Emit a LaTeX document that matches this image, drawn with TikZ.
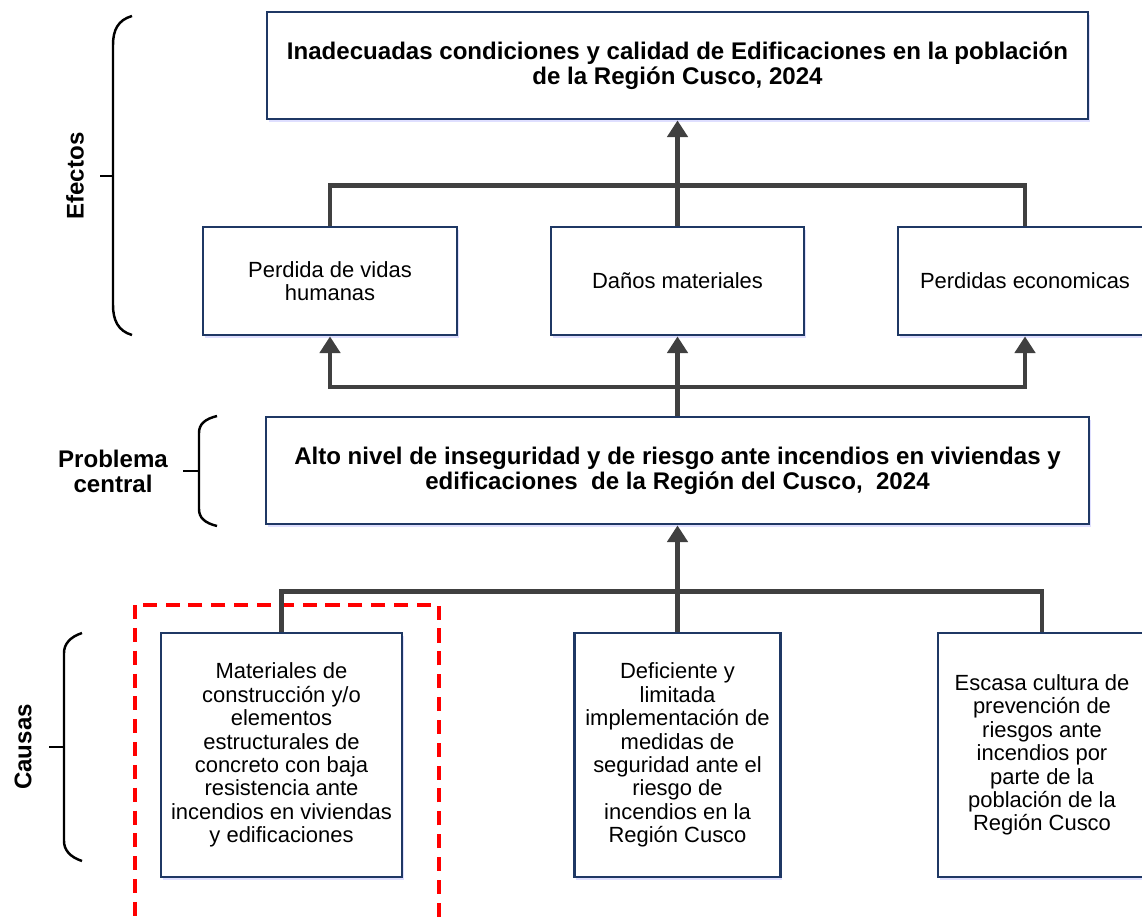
\documentclass[tikz,border=0pt]{standalone}
\usepackage{fontspec}
\setmainfont{Liberation Sans}
\usetikzlibrary{arrows.meta}
\usetikzlibrary{shadows}
\definecolor{boxblue}{RGB}{31,56,100}
\definecolor{linegray}{RGB}{64,64,64}
\newcommand{\pxl}{0.02cm}
\tikzset{
    box/.style={draw=boxblue, line width=1.6pt, fill=white, align=center, inner sep=0pt,
        font=\fontsize{12.5}{13.3}\selectfont,
        drop shadow={shadow xshift=1pt, shadow yshift=-1.5pt, fill=blue!25!white, opacity=.5}},
    bigbox/.style={box, font=\bfseries\fontsize{13.7}{14.3}\selectfont},
    link/.style={draw=linegray, line width=2.4pt},
    arrowlink/.style={link, -{Triangle[width=11.5pt,length=9.5pt]}},
    brace/.style={draw=black, line width=1.4pt},
    sidelabel/.style={font=\bfseries\fontsize{13.7}{14.3}\selectfont, align=center},
    reddash/.style={draw=red, line width=2pt, dash pattern=on 8pt off 5pt},
}

\begin{document}
\begin{tikzpicture}[x=0.02cm, y=-0.02cm]
	\clip (0,0) rectangle (1142,919);
	% efectos
	\node[bigbox, minimum width={821*\pxl}, minimum height={107*\pxl}] (efecto) at (677.5,65.5)
		{Inadecuadas condiciones y calidad de Edificaciones en la población\\de la Región Cusco, 2024};
	\node[box, minimum width={254*\pxl}, minimum height={108*\pxl}] (ef1) at (330,281) {Perdida de vidas\\humanas};
	\node[box, minimum width={253*\pxl}, minimum height={108*\pxl}] (ef2) at (677.5,281) {Daños materiales};
	\node[box, minimum width={254*\pxl}, minimum height={108*\pxl}] (ef3) at (1025,281) {Perdidas economicas};
	% problema central
	\node[bigbox, minimum width={823*\pxl}, minimum height={107*\pxl}] (central) at (677.5,470.5)
		{Alto nivel de inseguridad y de riesgo ante incendios en viviendas y\\edificaciones\ \ de la Región del Cusco,\ \ 2024};
	% causas
	\draw[reddash] (135,605) rectangle (439,940);
	\node[box, minimum width={241*\pxl}, minimum height={244*\pxl}] (ca1) at (281.5,755)
		{Materiales de\\construcción y/o\\elementos\\estructurales de\\concreto con baja\\resistencia ante\\incendios en viviendas\\y edificaciones};
	\node[box, minimum width={206*\pxl}, minimum height={244*\pxl}] (ca2) at (677.5,755)
		{Deficiente y\\limitada\\implementación de\\medidas de\\seguridad ante el\\riesgo de\\incendios en la\\Región Cusco};
	\node[box, minimum width={208*\pxl}, minimum height={244*\pxl}] (ca3) at (1042,755)
		{Escasa cultura de\\prevención de\\riesgos ante\\incendios por\\parte de la\\población de la\\Región Cusco};
	% conectores
	\draw[link] (ef1.north) -- ++(0,-40) -| (ef3.north);
	\draw[arrowlink] (ef2.north) -- (efecto.south);
	\coordinate (jlow) at (677.5,387);
	\draw[arrowlink] (central.north) -- (ef2.south);
	\draw[arrowlink] (jlow) -| (ef1.south);
	\draw[arrowlink] (jlow) -| (ef3.south);
	\draw[link] (ca1.north) -- ++(0,-40) -| (ca3.north);
	\draw[arrowlink] (ca2.north) -- (central.south);
	% llaves
	\draw[brace] (132,16) .. controls (118,20) and (113,30) .. (113,45) -- (113,305) .. controls (113,320) and (118,331) .. (132,335);
	\draw[brace] (100,176) -- (113,176);
	\node[sidelabel, rotate=90] (lefectos) at (75,176) {Efectos};
	\draw[brace] (217,416) .. controls (205,419) and (199,424) .. (199,433) -- (199,509) .. controls (199,518) and (205,523) .. (217,526);
	\draw[brace] (183,471) -- (199,471);
	\node[sidelabel] (lproblema) at (113,471) {Problema\\central};
	\draw[brace] (82,633) .. controls (70,637) and (64,644) .. (64,653) -- (64,841) .. controls (64,850) and (70,857) .. (82,861);
	\draw[brace] (49,747) -- (64,747);
	\node[sidelabel, rotate=90] (lcausas) at (23,747) {Causas};
\end{tikzpicture}
\end{document}
